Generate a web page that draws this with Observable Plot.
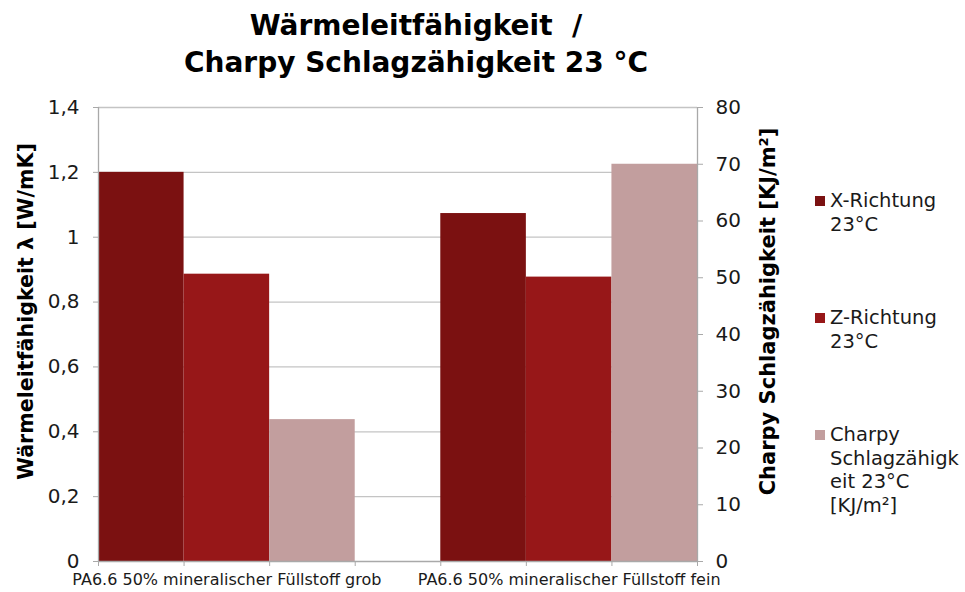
<!DOCTYPE html>
<html>
<head>
<meta charset="utf-8">
<script src="https://cdn.jsdelivr.net/npm/d3@7"></script>
<script src="https://cdn.jsdelivr.net/npm/@observablehq/plot@0.6"></script>
<style>
  body { margin: 0; background: #fff; }
  #wrap { position: relative; width: 965px; height: 592px; overflow: hidden; background: #fff;
          font-family: "DejaVu Sans", Verdana, sans-serif; color: #000; }
  .title { position: absolute; left: 0; width: 832px; text-align: center; white-space: pre;
           font-family: "DejaVu Sans", Verdana, sans-serif;
           font-weight: bold; font-size: 28px; line-height: 37px; }
  #chart { position: absolute; left: 0; top: 90px; }
  .leg { position: absolute; left: 830px; font-size: 19.5px; line-height: 23.5px; white-space: pre; color: #1a1a1a; }
  .sw { position: absolute; left: -15px; top: 7px; width: 10px; height: 10px; }
</style>
</head>
<body>
<div id="wrap">
  <div class="title" style="top:7px">Wärmeleitfähigkeit  /</div>
  <div class="title" style="top:44px">Charpy Schlagzähigkeit 23 °C</div>
  <div id="chart"></div>
</div>
<script>
// Materials compared
const categories = [
  "PA6.6 50% mineralischer Füllstoff grob",
  "PA6.6 50% mineralischer Füllstoff fein"
];
// Series (two conductivity directions on the left axis, impact strength on the right axis)
const seriesNames = ["X-Richtung 23°C", "Z-Richtung 23°C", "Charpy Schlagzähigkeit 23°C [KJ/m²]"];
const legendLines = [
  ["X-Richtung", "23°C"],
  ["Z-Richtung", "23°C"],
  ["Charpy", "Schlagzähigk", "eit 23°C", "[KJ/m²]"]
];
const seriesColors = ["#7b1111", "#971718", "#c29e9e"];

// Values per material
const xRichtung = [1.2, 1.073];   // W/mK
const zRichtung = [0.886, 0.877]; // W/mK
const charpy = [25, 70];          // KJ/m²

// Axis ticks
const leftTicks = [0, 0.2, 0.4, 0.6, 0.8, 1.0, 1.2, 1.4];
const rightTicks = [0, 10, 20, 30, 40, 50, 60, 70, 80];

const leftMax = 1.4, rightMax = 80;
const toLeft = v => v * leftMax / rightMax;   // secondary → primary units
const fromLeft = v => v * rightMax / leftMax;

const nSeries = seriesNames.length;
const slotsPerCat = nSeries + 1; // one empty slot between the material groups
const xMax = categories.length * slotsPerCat - 1;

const seriesValues = [xRichtung, zRichtung, charpy];
const rows = [];
categories.forEach((cat, ci) => {
  seriesValues.forEach((vals, si) => {
    const v = vals[ci];
    rows.push({
      cat, series: seriesNames[si], value: v,
      slot: ci * slotsPerCat + si,
      y: si === 2 ? toLeft(v) : v
    });
  });
});

const axisGray = "#a9a9a9";
const gridGray = "#c4c4c4";
const fmtComma = d => String(+d.toFixed(1)).replace(".", ",");

const chart = Plot.plot({
  width: 800,
  height: 502,
  marginLeft: 98,
  marginRight: 103,
  marginTop: 17,
  marginBottom: 31,
  style: { fontFamily: "DejaVu Sans, Verdana, sans-serif", fontSize: "20px", color: "#1a1a1a", background: "#fff", overflow: "visible" },
  x: { domain: [0, xMax], axis: null },
  y: { domain: [0, leftMax], axis: null },
  color: { domain: seriesNames, range: seriesColors },
  marks: [
    Plot.ruleY(leftTicks.filter(t => t > 0), { stroke: gridGray, strokeWidth: 1.3 }),
    Plot.rectY(rows, { x1: "slot", x2: d => d.slot + 1, y1: 0, y2: "y", fill: "series" }),
    Plot.ruleY([0], { stroke: axisGray, strokeWidth: 1.3 }),
    Plot.ruleX([0, xMax], { stroke: axisGray, strokeWidth: 1.3 }),
    Plot.axisY(leftTicks, { anchor: "left", tickSize: 5, tickPadding: 14, tickFormat: fmtComma,
      stroke: axisGray, fill: "#1a1a1a", label: null, fontSize: 20 }),
    Plot.axisY(rightTicks.map(toLeft), { anchor: "right", tickSize: 5, tickPadding: 13,
      tickFormat: d => Math.round(fromLeft(d)), stroke: axisGray, fill: "#1a1a1a", label: null, fontSize: 20 }),
    Plot.axisX(d3.range(0, xMax + 1), { anchor: "bottom", tickSize: 5, tickFormat: () => "",
      stroke: axisGray, label: null }),
    Plot.text(categories, { x: (d, i) => i * slotsPerCat + nSeries / 2, frameAnchor: "bottom",
      dy: 23, fontSize: 16, fill: "#1a1a1a" }),
    Plot.text(["Wärmeleitfähigkeit λ [W/mK]"], { text: d => d, frameAnchor: "left", textAnchor: "middle",
      rotate: -90, dx: -72, dy: -23, fontWeight: "bold", fontSize: 20.6, fill: "#000" }),
    Plot.text(["Charpy Schlagzähigkeit [KJ/m²]"], { text: d => d, frameAnchor: "right", textAnchor: "middle",
      rotate: -90, dx: 71, dy: -23, fontWeight: "bold", fontSize: 21, fill: "#000" })
  ]
});
document.getElementById("chart").appendChild(chart);

// Legend beside the plot
const legendTops = [189, 306, 423];
const wrap = document.getElementById("wrap");
seriesNames.forEach((name, i) => {
  const div = document.createElement("div");
  div.className = "leg";
  div.style.top = legendTops[i] + "px";
  div.textContent = legendLines[i].join("\n");
  const sw = document.createElement("span");
  sw.className = "sw";
  sw.style.background = seriesColors[i];
  div.appendChild(sw);
  wrap.appendChild(div);
});
</script>
</body>
</html>
